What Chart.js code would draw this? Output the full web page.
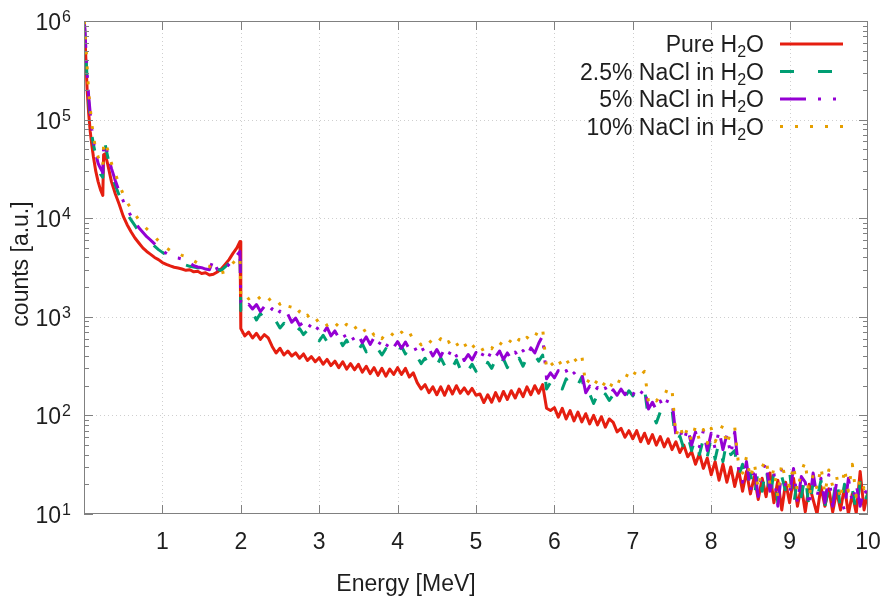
<!DOCTYPE html>
<html>
<head>
<meta charset="utf-8">
<script src="https://cdn.jsdelivr.net/npm/chart.js@4.4.1/dist/chart.umd.min.js"></script>
<style>
  html, body { margin: 0; padding: 0; background: #fff; }
</style>
</head>
<body>
<canvas id="spectrum" width="886" height="597"></canvas>
<script>
// Gamma spectra of water with different NaCl concentrations.

const energy = [
  0.005, 0.02, 0.04, 0.06, 0.08, 0.10, 0.12, 0.15, 0.18, 0.21, 0.24, 0.25, 0.27, 0.30,
  0.35, 0.40, 0.45, 0.50, 0.55, 0.60, 0.65, 0.70, 0.75, 0.80, 0.85, 0.90, 0.95,
  1.00, 1.05, 1.10, 1.15, 1.20, 1.25, 1.30, 1.35, 1.40, 1.45, 1.50, 1.55, 1.60, 1.65, 1.70, 1.75, 1.80, 1.85, 1.90, 1.95, 1.99,
  2.00, 2.05, 2.10, 2.15, 2.20, 2.25, 2.30, 2.35, 2.40, 2.45,
  2.50, 2.55, 2.60, 2.65, 2.70, 2.75, 2.80, 2.85, 2.90, 2.95,
  3.00, 3.05, 3.10, 3.15, 3.20, 3.25, 3.30, 3.35, 3.40, 3.45,
  3.50, 3.55, 3.60, 3.65, 3.70, 3.75, 3.80, 3.85, 3.90, 3.95,
  4.00, 4.05, 4.10, 4.15, 4.20, 4.25, 4.30, 4.35, 4.40, 4.45,
  4.50, 4.55, 4.60, 4.65, 4.70, 4.75, 4.80, 4.85, 4.90, 4.95,
  5.00, 5.05, 5.10, 5.15, 5.20, 5.25, 5.30, 5.35, 5.40, 5.45,
  5.50, 5.55, 5.60, 5.65, 5.70, 5.75, 5.80, 5.85, 5.90, 5.95,
  6.00, 6.05, 6.10, 6.15, 6.20, 6.25, 6.30, 6.35, 6.40, 6.45,
  6.50, 6.55, 6.60, 6.65, 6.70, 6.75, 6.80, 6.85, 6.90, 6.95,
  7.00, 7.05, 7.10, 7.15, 7.20, 7.25, 7.30, 7.35, 7.40, 7.45,
  7.50, 7.55, 7.60, 7.65, 7.70, 7.75, 7.80, 7.85, 7.90, 7.95,
  8.00, 8.05, 8.10, 8.15, 8.20, 8.25, 8.30, 8.35, 8.40, 8.45,
  8.50, 8.55, 8.60, 8.65, 8.70, 8.75, 8.80, 8.85, 8.90, 8.95,
  9.00, 9.05, 9.10, 9.15, 9.20, 9.25, 9.30, 9.35, 9.40, 9.45,
  9.50, 9.55, 9.60, 9.65, 9.70, 9.75, 9.80, 9.85, 9.90, 9.95,
  10.00
];

const pureWater = [
  950000, 490000, 200000, 115000, 75000, 55000, 42000, 30000, 23500, 19500, 17000, 44000, 45000, 36000,
  23500, 17600, 13800, 10500, 8600, 7300, 6300, 5600, 5000, 4600, 4300, 4000, 3800,
  3550, 3400, 3280, 3180, 3120, 3050, 2960, 3000, 2860, 2900, 2750, 2800, 2650, 2700, 2850, 3050, 3400, 3800, 4400, 5000, 5800,
  760, 640, 700, 610, 680, 590, 660, 610, 500, 430,
  480, 410, 450, 400, 430, 380, 420, 360, 395, 350,
  385, 330, 370, 320, 355, 305, 350, 295, 335, 290,
  330, 275, 315, 265, 305, 255, 300, 250, 295, 260,
  305, 260, 300, 245, 270, 215, 185, 205, 170, 195,
  162, 195, 160, 198, 165, 200, 168, 190, 165, 188,
  160, 165, 135, 162, 136, 170, 140, 175, 145, 178,
  150, 185, 155, 195, 162, 200, 168, 205, 118, 112,
  120, 96, 118, 92, 112, 88, 108, 86, 104, 82,
  100, 80, 97, 76, 92, 85, 68, 74, 60, 70,
  58, 70, 54, 66, 52, 64, 50, 61, 48, 58,
  45, 54, 42, 50, 38, 43, 32, 41, 29, 37,
  25, 34, 22, 32, 21, 30, 19, 28, 17, 27,
  16, 24, 14, 23, 15, 26, 13, 22, 11, 21,
  13, 23, 12, 19, 10.5, 20, 14, 10, 19, 12,
  18, 10.5, 17, 11, 19, 10, 16, 10.2, 27, 11,
  17
];

const nacl25 = [
  950000, 520000, 260000, 150000, 100000, 70000, 56000, 43000, 34000, 28000, 26000, 50000, 56000, 43000,
  28000, 21500, 17000, 13500, 11200, 9600, 8400, 7300, 6600, 6000, 5600, 5200, 4800,
  4500, 4250, 4000, 3800, 3600, 3450, 3350, 3250, 3200, 3150, 3100, 3000, 2950, 3400, 3050, 2950, 3200, 3500, 3800, 4200, 4600,
  1150, 1250, 1020, 1100, 930, 1080, 950, 1000, 820, 900,
  770, 860, 720, 790, 690, 760, 660, 730, 600, 670,
  570, 650, 560, 620, 550, 610, 510, 580, 480, 550,
  460, 530, 440, 500, 410, 470, 410, 475, 420, 490,
  430, 500, 420, 500, 400, 395, 335, 380, 320, 370,
  320, 385, 320, 390, 305, 365, 295, 360, 285, 330,
  280, 330, 275, 345, 300, 370, 295, 375, 305, 365,
  310, 380, 315, 390, 345, 410, 355, 410, 185, 215,
  190, 225, 185, 235, 200, 240, 205, 245, 145, 165,
  132, 162, 130, 165, 142, 162, 148, 172, 152, 178,
  158, 180, 160, 185, 92, 104, 84, 108, 96, 120,
  115, 52, 62, 46, 64, 44, 60, 40, 58, 38,
  60, 36, 54, 34, 56, 40, 44, 24, 32, 19,
  26, 15, 28, 17, 31, 14, 27, 13, 24, 17,
  27, 12, 23, 15, 25, 11, 21, 14, 22, 12,
  19, 13, 24, 11, 20, 14, 18, 10.5, 21, 13,
  16
];

const nacl5 = [
  980000, 600000, 300000, 170000, 115000, 80000, 60000, 45000, 36000, 32000, 29000, 53000, 58000, 46000,
  32000, 24000, 18500, 15000, 12500, 10500, 9200, 8000, 7200, 6500, 6000, 5500, 5000,
  4700, 4400, 4150, 4000, 3950, 3850, 3700, 3500, 3300, 3200, 3150, 3050, 3000, 3800, 3000, 2900, 3100, 3400, 3800, 4200, 4600,
  1400, 1220, 1340, 1200, 1330, 1130, 1270, 1090, 1210, 1010,
  1140, 980, 1060, 880, 970, 820, 880, 750, 850, 710,
  810, 680, 780, 640, 720, 610, 690, 590, 660, 570,
  650, 545, 625, 525, 615, 510, 585, 490, 565, 490,
  560, 480, 555, 470, 520, 435, 505, 425, 475, 400,
  465, 395, 475, 410, 485, 400, 445, 360, 415, 365,
  435, 365, 440, 375, 455, 395, 450, 370, 430, 370,
  440, 380, 455, 395, 485, 430, 540, 640, 235, 270,
  240, 285, 250, 285, 238, 270, 240, 265, 170, 198,
  168, 192, 168, 190, 158, 182, 160, 185, 162, 188,
  162, 190, 166, 188, 116, 136, 114, 140, 118, 145,
  140, 62, 72, 55, 74, 50, 68, 48, 70, 44,
  66, 46, 70, 45, 64, 40, 68, 28, 21, 34,
  17, 30, 15, 27, 33, 17, 26, 12, 28, 19,
  16, 29, 13, 24, 21, 12, 26, 15, 23, 13,
  25, 12, 21, 14, 11, 23, 13, 20, 12, 18,
  15
];

const nacl10 = [
  990000, 650000, 340000, 190000, 130000, 90000, 68000, 50000, 42000, 36000, 33000, 55000, 60000, 50000,
  36000, 28000, 22000, 17500, 14500, 12500, 11000, 9600, 8600, 7800, 7200, 6500, 5900,
  5400, 5000, 4700, 4500, 4400, 4200, 4100, 3900, 3700, 3500, 3400, 3300, 3250, 3000, 2900, 2800, 2850, 3100, 3500, 3900, 4100,
  1600, 1700, 1520, 1640, 1470, 1600, 1440, 1560, 1390, 1500,
  1340, 1460, 1280, 1250, 1050, 1140, 960, 1040, 900, 980,
  860, 930, 820, 890, 790, 870, 760, 840, 730, 800,
  710, 790, 680, 750, 650, 700, 600, 680, 620, 690,
  620, 700, 630, 700, 580, 580, 520, 590, 540, 600,
  540, 600, 510, 560, 480, 540, 470, 540, 455, 520,
  470, 520, 440, 500, 475, 565, 515, 580, 520, 585,
  515, 590, 530, 620, 570, 680, 650, 760, 300, 345,
  310, 365, 315, 370, 320, 380, 340, 400, 205, 235,
  200, 228, 192, 218, 185, 222, 200, 248, 230, 280,
  248, 290, 255, 280, 136, 152, 140, 158, 155, 195,
  185, 62, 80, 58, 75, 55, 78, 56, 72, 52,
  74, 54, 66, 80, 50, 70, 76, 31, 26, 38,
  23, 33, 18, 30, 36, 20, 29, 15, 33, 22,
  19, 31, 17, 27, 34, 15, 25, 18, 30, 16,
  28, 19, 24, 14, 29, 17, 32, 15, 23, 18,
  20
];

const seriesLabels = ["Pure H₂O", "2.5% NaCl in H₂O", "5% NaCl in H₂O", "10% NaCl in H₂O"];
const xTicks = [1, 2, 3, 4, 5, 6, 7, 8, 9, 10];
const yDecades = [10, 100, 1000, 10000, 100000, 1000000];

const FONT = '"Liberation Sans", Arial, sans-serif';
const TEXT = "#1e1e1e";
const AXIS = "#808080";

const styles = [
  { color: "#e51e10", dash: [] },
  { color: "#009e73", dash: [14, 24] },
  { color: "#9400d3", dash: [26, 12, 3, 12, 3, 12] },
  { color: "#e69f00", dash: [3, 12] },
];

const toPoints = (values) => energy.map((e, i) => ({ x: e, y: values[i] }));

// grid under the curves
const gridLines = {
  id: "gridLines",
  beforeDatasetsDraw(chart) {
    const { ctx, chartArea: a, scales: { x, y } } = chart;
    ctx.save();
    ctx.strokeStyle = "#cfcfcf";
    ctx.lineWidth = 1;
    ctx.setLineDash([1, 3]);
    xTicks.slice(0, -1).forEach((v) => {
      const px = Math.round(x.getPixelForValue(v)) + 0.5;
      ctx.beginPath();
      ctx.moveTo(px, a.top);
      ctx.lineTo(px, a.bottom);
      ctx.stroke();
    });
    yDecades.slice(1, -1).forEach((v) => {
      const py = Math.round(y.getPixelForValue(v)) + 0.5;
      ctx.beginPath();
      ctx.moveTo(a.left, py);
      ctx.lineTo(a.right, py);
      ctx.stroke();
    });
    ctx.restore();
  },
};

// text with a subscript 2 (H₂O)
const drawSubText = (ctx, text, right, base, size) => {
  const [pre, post] = text.split("₂");
  const small = Math.round(size * 0.7);
  ctx.font = `${size}px ${FONT}`;
  const w1 = ctx.measureText(pre).width;
  const w3 = ctx.measureText(post).width;
  ctx.font = `${small}px ${FONT}`;
  const w2 = ctx.measureText("2").width;
  let cx = right - w1 - w2 - w3;
  ctx.textAlign = "left";
  ctx.font = `${size}px ${FONT}`;
  ctx.fillText(pre, cx, base);
  cx += w1;
  ctx.font = `${small}px ${FONT}`;
  ctx.fillText("2", cx, base + 5);
  cx += w2;
  ctx.font = `${size}px ${FONT}`;
  ctx.fillText(post, cx, base);
};

const frame = {
  id: "frame",
  afterDraw(chart) {
    const { ctx, chartArea: a, scales: { x, y } } = chart;
    ctx.save();
    ctx.strokeStyle = AXIS;
    ctx.lineWidth = 1;
    ctx.strokeRect(a.left + 0.5, a.top + 0.5, a.width - 1, a.height - 1);

    // ticks point inwards, on all four sides
    ctx.beginPath();
    xTicks.slice(0, -1).forEach((v) => {
      const px = Math.round(x.getPixelForValue(v)) + 0.5;
      ctx.moveTo(px, a.bottom);
      ctx.lineTo(px, a.bottom - 9);
      ctx.moveTo(px, a.top);
      ctx.lineTo(px, a.top + 9);
    });
    yDecades.forEach((d) => {
      for (let m = 1; m <= 9; m++) {
        const v = d * m;
        if (v > 1000000) break;
        const py = Math.round(y.getPixelForValue(v)) + 0.5;
        const len = m === 1 ? 9 : 5;
        ctx.moveTo(a.left, py);
        ctx.lineTo(a.left + len, py);
        ctx.moveTo(a.right, py);
        ctx.lineTo(a.right - len, py);
      }
    });
    ctx.stroke();

    ctx.fillStyle = TEXT;
    ctx.textBaseline = "alphabetic";

    // x tick labels
    ctx.font = `23px ${FONT}`;
    ctx.textAlign = "center";
    xTicks.forEach((v) => ctx.fillText(String(v), x.getPixelForValue(v), 549));

    // y tick labels as 10^n
    yDecades.forEach((d) => {
      const py = y.getPixelForValue(d);
      const exp = String(Math.round(Math.log10(d)));
      ctx.textAlign = "right";
      ctx.font = `16px ${FONT}`;
      const we = ctx.measureText(exp).width;
      ctx.fillText(exp, 71, py + 1);
      ctx.font = `23px ${FONT}`;
      ctx.fillText("10", 71 - we - 1, py + 9);
    });

    // axis titles
    ctx.font = `23px ${FONT}`;
    ctx.textAlign = "center";
    ctx.fillText("Energy [MeV]", 406, 591);
    ctx.save();
    ctx.translate(28, 264);
    ctx.rotate(-Math.PI / 2);
    ctx.fillText("counts [a.u.]", 0, 0);
    ctx.restore();

    // legend, top right
    chart.data.datasets.forEach((ds, i) => {
      const rowY = 44 + i * 27.5;
      ctx.fillStyle = TEXT;
      drawSubText(ctx, seriesLabels[i], 764, rowY + 8, 23);
      ctx.strokeStyle = ds.borderColor;
      ctx.lineWidth = 3;
      ctx.setLineDash(styles[i].dash);
      ctx.beginPath();
      ctx.moveTo(780, rowY);
      ctx.lineTo(843, rowY);
      ctx.stroke();
      ctx.setLineDash([]);
    });
    ctx.restore();
  },
};

const datasets = [pureWater, nacl25, nacl5, nacl10].map((values, i) => ({
  label: seriesLabels[i],
  data: toPoints(values),
  borderColor: styles[i].color,
  borderWidth: 3,
  borderDash: styles[i].dash,
  borderCapStyle: "butt",
  borderJoinStyle: "round",
  pointRadius: 0,
  tension: 0,
  fill: false,
  order: 3 - i,
}));

new Chart(document.getElementById("spectrum"), {
  type: "line",
  data: { datasets },
  options: {
    responsive: false,
    animation: false,
    devicePixelRatio: 1,
    layout: { padding: { left: 84, top: 21, right: 18, bottom: 83 } },
    plugins: { legend: { display: false }, tooltip: { enabled: false } },
    scales: {
      x: { type: "linear", min: 0, max: 10, display: false },
      y: { type: "logarithmic", min: 10, max: 1000000, display: false },
    },
  },
  plugins: [gridLines, frame],
});
</script>
</body>
</html>
